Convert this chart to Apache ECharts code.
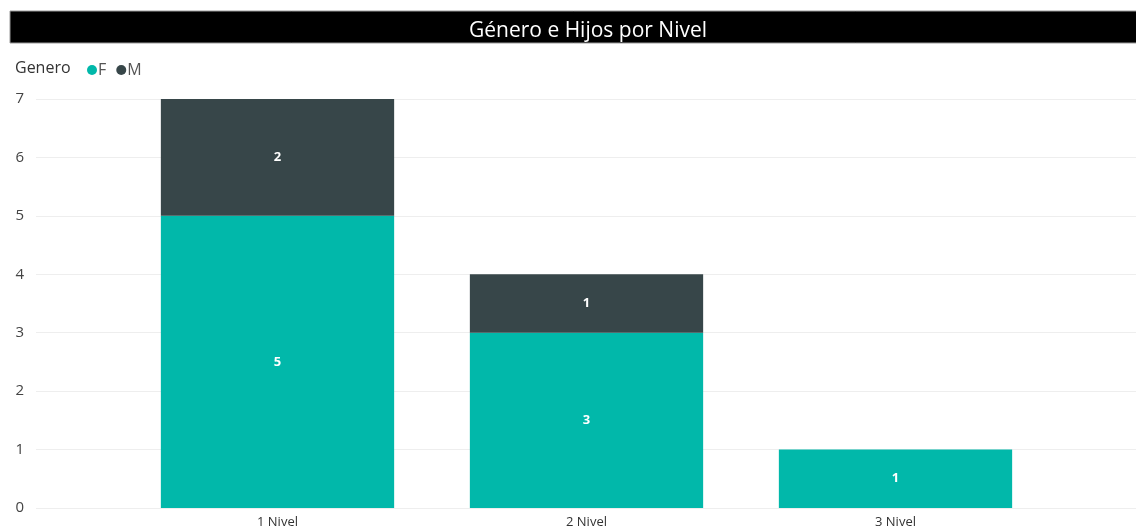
<!DOCTYPE html>
<html>
<head>
<meta charset="utf-8">
<script src="https://cdn.jsdelivr.net/npm/echarts@6/dist/echarts.min.js"></script>
<style>
  html, body { margin: 0; padding: 0; background: #fff; }
  #main { width: 1136px; height: 531px; }
</style>
</head>
<body>
<div id="main"></div>
<script>
// datos del gráfico
var niveles = ['1 Nivel', '2 Nivel', '3 Nivel']
var femenino = [5, 3, 1]
var masculino = [2, 1, '-']
var yTicks = [0, 1, 2, 3, 4, 5, 6, 7]

var font = '"Segoe UI", "Open Sans", "Noto Sans", sans-serif'
var myChart = echarts.init(document.getElementById('main'))

var barLabel = {
  show: true,
  position: 'inside',
  color: '#fff',
  fontWeight: 'bold',
  fontSize: 13,
  fontFamily: font
}

myChart.setOption({
  animation: false,
  title: {
    text: 'Género e Hijos por Nivel',
    left: 583,
    textAlign: 'center',
    top: 16,
    textStyle: { color: '#fff', fontSize: 21, fontWeight: 'normal', fontFamily: font }
  },
  graphic: [
    {
      type: 'rect',
      z: -1,
      shape: { x: 10, y: 11, width: 1130, height: 32 },
      style: { fill: '#000', stroke: '#9a9a9a', lineWidth: 1 }
    },
    {
      type: 'text',
      left: 15,
      top: 60,
      style: { text: 'Genero', fill: '#333', font: '16px ' + font }
    }
  ],
  legend: {
    left: 82,
    top: 57,
    icon: 'circle',
    itemWidth: 10,
    itemHeight: 10,
    itemGap: 10,
    itemStyle: { borderWidth: 0 },
    textStyle: { color: '#555', fontSize: 16, fontFamily: font, padding: [0, 0, 0, -4] },
    data: ['F', 'M']
  },
  grid: [
    { left: 36, right: 0, top: 99, bottom: 23 },
    { left: 123, right: 86, top: 99, bottom: 23 }
  ],
  xAxis: [
    { type: 'value', gridIndex: 0, show: false, min: 0, max: 1 },
    {
      type: 'category',
      gridIndex: 1,
      data: niveles,
      axisLine: { show: false },
      axisTick: { show: false },
      axisLabel: { color: '#333', fontSize: 13, fontFamily: font, margin: 8 }
    }
  ],
  yAxis: [
    {
      type: 'value',
      gridIndex: 0,
      min: yTicks[0],
      max: yTicks[yTicks.length - 1],
      interval: 1,
      axisLine: { show: false },
      axisTick: { show: false },
      splitLine: { lineStyle: { color: '#eeeeee', width: 1 } },
      axisLabel: { color: '#444', fontSize: 15, fontFamily: font, margin: 12 }
    },
    {
      type: 'value',
      gridIndex: 1,
      min: yTicks[0],
      max: yTicks[yTicks.length - 1],
      interval: 1,
      show: false
    }
  ],
  series: [
    {
      name: 'F',
      type: 'bar',
      stack: 'genero',
      xAxisIndex: 1,
      yAxisIndex: 1,
      barCategoryGap: '24.5%',
      itemStyle: { color: '#01B8AA' },
      label: barLabel,
      data: femenino
    },
    {
      name: 'M',
      type: 'bar',
      stack: 'genero',
      xAxisIndex: 1,
      yAxisIndex: 1,
      itemStyle: { color: '#374649' },
      label: barLabel,
      data: masculino
    }
  ]
})
</script>
</body>
</html>
